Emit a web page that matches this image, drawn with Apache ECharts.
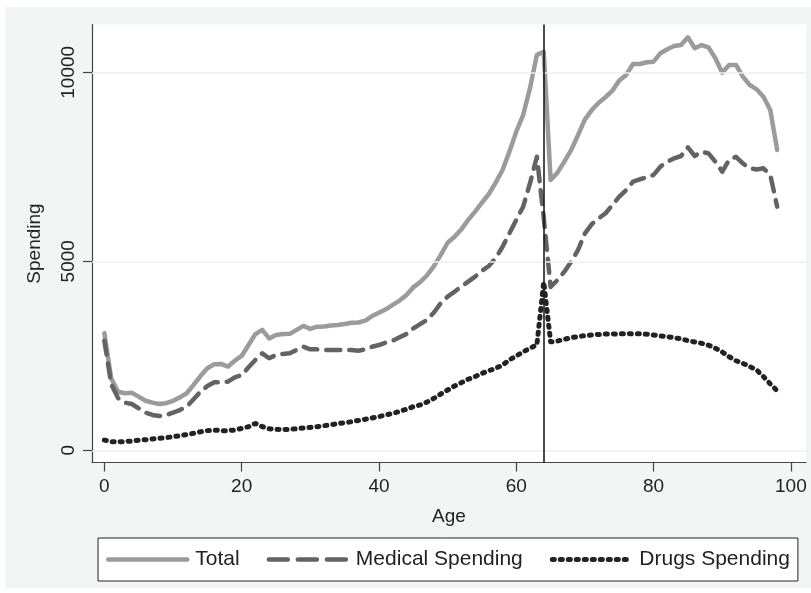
<!DOCTYPE html>
<html>
<head>
<meta charset="utf-8">
<script src="https://cdn.jsdelivr.net/npm/echarts@6/dist/echarts.min.js"></script>
<style>html,body{margin:0;padding:0;background:#fff}#c{width:811px;height:593px}</style>
</head>
<body>
<div id="c"></div>
<script>
const ages = [];
for (let a = 0; a <= 98; a++) ages.push(a);

const total = [3100,1900,1550,1510,1520,1420,1310,1260,1225,1245,1310,1400,1510,1730,1965,2170,2275,2285,2215,2370,2495,2785,3075,3185,2960,3050,3075,3080,3185,3290,3210,3270,3275,3300,3315,3340,3375,3380,3430,3550,3640,3730,3845,3960,4110,4310,4450,4630,4870,5170,5490,5650,5845,6095,6315,6550,6780,7080,7415,7900,8430,8870,9580,10460,10545,7150,7345,7635,7945,8340,8755,9000,9195,9340,9515,9780,9930,10220,10220,10265,10280,10505,10610,10695,10720,10925,10635,10720,10660,10370,9990,10195,10195,9885,9665,9550,9355,9000,7945];

const medical = [2900,1750,1380,1260,1225,1110,995,935,905,935,995,1065,1155,1350,1550,1700,1800,1800,1815,1930,1990,2195,2390,2565,2435,2520,2550,2565,2655,2740,2670,2670,2655,2655,2655,2655,2655,2635,2670,2740,2785,2850,2900,2990,3075,3225,3340,3450,3645,3890,4065,4195,4330,4460,4595,4750,4875,5080,5385,5740,6095,6445,7065,7765,6150,4320,4505,4725,4990,5300,5740,5985,6135,6270,6490,6710,6885,7105,7170,7220,7285,7505,7635,7725,7785,8015,7785,7900,7855,7635,7370,7680,7765,7590,7460,7430,7460,7285,6445];

const drugs = [270,230,220,230,245,265,280,300,315,335,360,385,415,450,490,520,535,520,520,535,580,625,710,625,570,555,545,555,570,590,605,625,650,675,705,730,755,790,820,855,890,935,975,1030,1085,1155,1200,1275,1375,1490,1595,1700,1790,1880,1950,2035,2105,2170,2255,2390,2495,2605,2700,2790,4450,2870,2890,2935,2980,3005,3035,3050,3065,3075,3075,3080,3080,3085,3085,3070,3050,3025,3005,2980,2945,2900,2865,2830,2780,2700,2600,2475,2370,2300,2215,2125,1950,1755,1575];

const xTicks = [0,20,40,60,80,100];
const yTicks = [0,5000,10000];
const cutoffAge = 64;

const pair = arr => arr.map((v,i) => [ages[i], v]);
const FONT = '"Liberation Sans", Arial, Helvetica, sans-serif';
const plain = v => String(v);

const chart = echarts.init(document.getElementById('c'), null, {renderer:'canvas'});
chart.setOption({
  backgroundColor: '#ffffff',
  animation: false,
  textStyle: {fontFamily: FONT},
  graphic: [{
    type: 'rect', z: -100, silent: true,
    shape: {x: 5, y: 7, width: 806, height: 581},
    style: {fill: '#f3f5f5'}
  }],
  grid: {
    left: 92, right: 5, top: 24.5, bottom: 130.5,
    show: true, backgroundColor: '#ffffff', borderWidth: 0
  },
  xAxis: {
    type: 'value', min: -1.8, max: 102.2,
    name: 'Age', nameLocation: 'middle', nameGap: 45,
    nameTextStyle: {fontSize: 19, color: '#222', fontFamily: FONT},
    axisLine: {show: true, onZero: false, lineStyle: {color: '#444', width: 1.2}},
    axisTick: {show: true, length: 9, customValues: xTicks, lineStyle: {color: '#444', width: 1.2}},
    axisLabel: {customValues: xTicks, formatter: plain, fontSize: 19, color: '#222', margin: 15, fontFamily: FONT},
    splitLine: {show: false}
  },
  yAxis: {
    type: 'value', min: -323, max: 11264,
    name: 'Spending', nameLocation: 'middle', nameGap: 48, nameRotate: 90,
    nameTextStyle: {fontSize: 19, color: '#222', fontFamily: FONT},
    axisLine: {show: true, onZero: false, lineStyle: {color: '#444', width: 1.2}},
    axisTick: {show: true, length: 9, customValues: yTicks, lineStyle: {color: '#444', width: 1.2}},
    axisLabel: {customValues: yTicks, formatter: plain, rotate: 90, fontSize: 19, color: '#222', margin: 14, fontFamily: FONT},
    splitLine: {show: false}
  },
  legend: {
    left: 98, top: 538,
    itemWidth: 79, itemHeight: 14, itemGap: 27,
    padding: [11, 8, 11, 8],
    borderColor: '#222', borderWidth: 1,
    backgroundColor: '#ffffff',
    itemStyle: {color: 'rgba(0,0,0,0)', borderWidth: 0, opacity: 0},
    textStyle: {fontSize: 21, color: '#222', padding: [0,0,0,3], fontFamily: FONT},
    data: [
      {name: 'Total', lineStyle: {width: 4.5, color: '#9b9b9b', type: 'solid', cap: 'round'}},
      {name: 'Medical Spending', lineStyle: {width: 4.5, color: '#636363', type: [19, 10], cap: 'round'}},
      {name: 'Drugs Spending', lineStyle: {width: 5, color: '#222', type: [2, 6], cap: 'round'}}
    ]
  },
  series: [
    {
      type: 'line', name: 'grid', silent: true, data: [], z: 1,
      markLine: {
        silent: true, symbol: 'none', label: {show: false},
        lineStyle: {color: '#eef0f0', width: 1.5, type: 'solid'},
        data: yTicks.map(v => ({yAxis: v}))
      }
    },
    {
      type: 'line', name: 'Total', data: pair(total), showSymbol: false, symbol: 'none',
      z: 3,
      lineStyle: {color: '#9b9b9b', width: 4.5, join: 'round', cap: 'round'},
      itemStyle: {color: '#9b9b9b'}
    },
    {
      type: 'line', name: 'Medical Spending', data: pair(medical), showSymbol: false, symbol: 'none',
      z: 4,
      lineStyle: {color: '#636363', width: 4.5, type: [14, 9], cap: 'round', join: 'round'},
      itemStyle: {color: '#636363'},
      markLine: {
        silent: true, symbol: 'none', label: {show: false},
        lineStyle: {color: '#111', width: 1.5, type: 'solid'},
        data: [{xAxis: cutoffAge}]
      }
    },
    {
      type: 'line', name: 'Drugs Spending', data: pair(drugs), showSymbol: false, symbol: 'none',
      z: 5,
      lineStyle: {color: '#222', width: 5, type: [2, 6], cap: 'round', join: 'round'},
      itemStyle: {color: '#222'}
    }
  ]
});
</script>
</body>
</html>
